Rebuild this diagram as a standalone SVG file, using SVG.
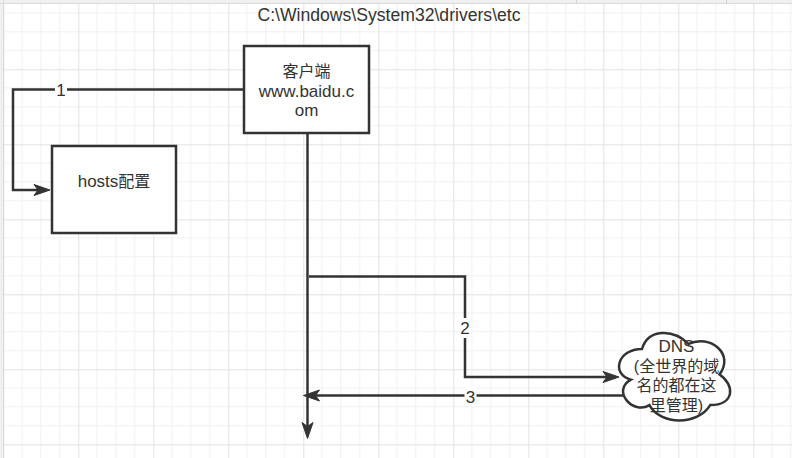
<svg xmlns="http://www.w3.org/2000/svg" width="792" height="458" viewBox="0 0 792 458">
  <defs>
    <pattern id="grid" patternUnits="userSpaceOnUse" x="3.3" y="-5.7" width="75" height="75">
      <path d="M18.75,0V75M37.5,0V75M56.25,0V75M0,18.75H75M0,37.5H75M0,56.25H75" fill="none" stroke="#f0f0f0" stroke-width="1"/>
      <path d="M0.5,0V75M0,0.5H75" fill="none" stroke="#e2e2e2" stroke-width="1"/>
    </pattern>
    <marker id="arrow" markerUnits="userSpaceOnUse" viewBox="-5 -7 19 14" markerWidth="19" markerHeight="14" refX="0" refY="0" orient="auto">
      <path d="M12,0 L-4,-5.5 L0,0 L-4,5.5 Z" fill="#333333" stroke="#333333" stroke-width="1" stroke-linejoin="miter"/>
    </marker>
    <style>
      .node { fill: #ffffff; stroke: #333333; stroke-width: 2.5; }
      .edge { fill: none; stroke: #333333; stroke-width: 2.5; }
      .txt { font-family: "Liberation Sans", "Noto Sans CJK SC", sans-serif; font-size: 16px; fill: #333333; text-anchor: middle; }
      .lat { font-size: 17px; }
      .lbl-bg { fill: #ffffff; }
    </style>
  </defs>

  <!-- canvas background -->
  <rect x="0" y="0" width="792" height="458" fill="#ffffff"/>
  <rect x="3" y="3" width="789" height="455" fill="url(#grid)"/>
  <rect x="0" y="0" width="792" height="3" fill="#f0f0f0"/>
  <rect x="0" y="0" width="3" height="458" fill="#f0f0f0"/>
  <path d="M0,3.5H792M3.5,0V458" stroke="#d9d9d9" stroke-width="1"/>
  <path d="M576.5,0V3M726.5,0V3" stroke="#d0d0d0" stroke-width="1"/>

  <!-- title -->
  <g id="title">
    <text class="txt" x="389" y="21" style="font-size:17.6px">C:\Windows\System32\drivers\etc</text>
  </g>

  <!-- connectors -->
  <g id="connectors">
    <path class="edge" d="M244,89.5 H13 V190 H38" marker-end="url(#arrow)"/>
    <path class="edge" d="M307.5,133 V426.5" marker-end="url(#arrow)"/>
    <path class="edge" d="M309,276.5 H465 V377 H607" marker-end="url(#arrow)"/>
    <path class="edge" d="M633,395.5 H315.5" marker-end="url(#arrow)"/>
    <g id="label-1">
      <rect class="lbl-bg" x="55" y="80" width="12" height="19"/>
      <text class="txt lat" x="61" y="95.5">1</text>
    </g>
    <g id="label-2">
      <rect class="lbl-bg" x="459" y="318" width="12" height="20"/>
      <text class="txt lat" x="465" y="334">2</text>
    </g>
    <g id="label-3">
      <rect class="lbl-bg" x="464.5" y="387" width="12" height="19"/>
      <text class="txt lat" x="470.5" y="403">3</text>
    </g>
  </g>

  <!-- client node -->
  <g id="client">
    <rect class="node" x="244" y="46" width="125" height="87"/>
    <text class="txt" x="306.5" y="77"><tspan x="306.5" y="77">客户端</tspan><tspan class="lat" x="306.5" y="96.5">www.baidu.c</tspan><tspan class="lat" x="306.5" y="116">om</tspan></text>
  </g>

  <!-- hosts node -->
  <g id="hosts">
    <rect class="node" x="52" y="146" width="124" height="87"/>
    <text class="txt" x="114" y="187"><tspan class="lat">hosts</tspan>配置</text>
  </g>

  <!-- DNS cloud -->
  <g id="dns">
    <path class="node" transform="translate(611,323.5) scale(124,102)" vector-effect="non-scaling-stroke"
      d="M0.25,0.25 C0.05,0.25 0,0.5 0.16,0.55 C0,0.66 0.18,0.9 0.31,0.8 C0.4,1 0.7,1 0.8,0.8 C1,0.8 1,0.6 0.875,0.5 C1,0.3 0.8,0.1 0.625,0.2 C0.5,0.05 0.3,0.05 0.25,0.25 Z"/>
    <text class="txt" x="676.5" y="352"><tspan class="lat" x="676.5" y="352">DNS</tspan><tspan x="676.5" y="371.5">(全世界的域</tspan><tspan x="676.5" y="391">名的都在这</tspan><tspan x="676.5" y="410.5">里管理)</tspan></text>
  </g>
</svg>
